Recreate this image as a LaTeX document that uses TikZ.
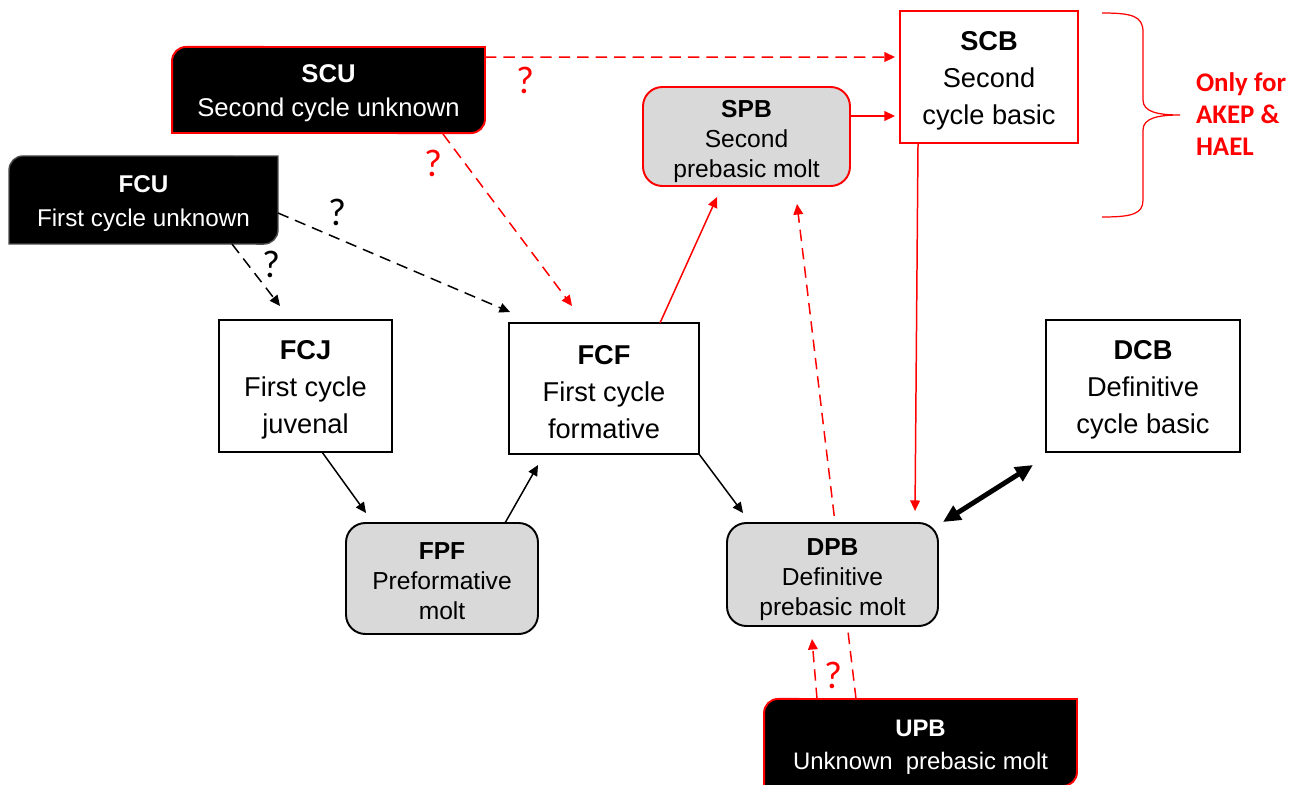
\documentclass[tikz,border=0pt]{standalone}
\usepackage{fontspec}
\setmainfont{Liberation Sans}
\newfontfamily\calib{Carlito}
\usetikzlibrary{arrows.meta,calc,backgrounds}
\definecolor{boxgrey}{HTML}{D9D9D9}
\definecolor{myred}{HTML}{FF0000}
\newcommand\diagshape[3]{% name, stroke colour, line width
  \path[fill=black, draw=#2, line width=#3]
    (#1.south west) -- ($(#1.north west)+(0,14)$) arc[start angle=180, end angle=90, radius=8pt]
    -- (#1.north east) -- ($(#1.south east)+(0,-14)$) arc[start angle=0, end angle=-90, radius=8pt]
    -- cycle;}
\newcommand\ttl[2][13.6pt]{\rule{0pt}{#1}\textbf{#2}}
\begin{document}
\begin{tikzpicture}[x=0.02cm,y=-0.02cm,
  every node/.style={inner sep=0pt, outer sep=0pt},
  sq/.style={draw=black, line width=1.1pt, fill=white, align=center, font=\fontsize{15.5}{21}\selectfont},
  sqred/.style={sq, draw=myred},
  rnd/.style={draw=black, line width=1.1pt, fill=boxgrey, rounded corners=11pt, align=center, font=\fontsize{14}{17}\selectfont},
  rndred/.style={rnd, draw=myred},
  unk/.style={align=center, text=white, font=\fontsize{13.6}{19}\selectfont},
  con/.style={line width=0.85pt, -{Triangle[length=6pt,width=5.5pt]}},
  dsh/.style={dash pattern=on 6.5pt off 4pt},
  qm/.style={font=\calib\fontsize{22}{22}\selectfont},
]
\useasboundingbox (0,0) rectangle (1304,784);

% nodes
\node[unk, font=\fontsize{14.6}{19.2}\selectfont, minimum width=6.26cm, minimum height=1.72cm] (scu) at (328.5,90) {\ttl[13.8pt]{SCU}\\Second cycle unknown};
\node[unk, font=\fontsize{13.8}{19}\selectfont, minimum width=5.38cm, minimum height=1.76cm] (fcu) at (143.5,200) {\ttl[13.7pt]{FCU}\\First cycle unknown};
\node[unk, minimum width=6.26cm, minimum height=1.74cm] (upb) at (920.5,742.5) {\ttl[14.6pt]{UPB}\\Unknown\ \ prebasic molt};
\node[sqred, minimum width=3.56cm, minimum height=2.64cm] (scb) at (989,77) {\ttl[15pt]{SCB}\\Second\\cycle basic};
\node[rndred, minimum width=4.14cm, minimum height=1.98cm] (spb) at (746.5,136.5) {\ttl[15.1pt]{SPB}\\Second\\prebasic molt};
\node[sq, minimum width=3.46cm, minimum height=2.64cm] (fcj) at (305.5,386) {\ttl[15pt]{FCJ}\\First cycle\\juvenal};
\node[sq, minimum width=3.80cm, minimum height=2.62cm] (fcf) at (604,388.5) {\ttl[15pt]{FCF}\\First cycle\\formative};
\node[sq, minimum width=3.88cm, minimum height=2.64cm] (dcb) at (1143,386) {\ttl[15pt]{DCB}\\Definitive\\cycle basic};
\node[rnd, minimum width=3.84cm, minimum height=2.22cm] (fpf) at (442,578.5) {\ttl[12.3pt]{FPF}\\Preformative\\molt};
\node[rnd, minimum width=4.22cm, minimum height=2.06cm] (dpb) at (832.5,574.5) {\ttl[15.1pt]{DPB}\\Definitive\\prebasic molt};

\node[anchor=west, align=left, text=myred, font=\calib\bfseries\fontsize{15.3}{18.1}\selectfont] (note) at (1196,114) {Only for\\AKEP \&\\HAEL};

\node[qm, text=myred] (q1) at (525,80) {?};
\node[qm, text=myred] (q2) at (433,163) {?};
\node[qm] (q3) at (337,212) {?};
\node[qm] (q4) at (271,264) {?};
\node[qm, text=myred] (q5) at (833,675) {?};

\begin{pgfonlayer}{background}
  \diagshape{scu}{myred}{1.1pt}
  \diagshape{fcu}{black!70}{0.8pt}
  \diagshape{upb}{myred}{1.1pt}
  \draw[con, myred, dsh] ($(upb.north west)+(92,0)$) -- ($(spb.south west)+(154,18)$);
\end{pgfonlayer}

% connectors
\draw[con, myred, dsh] ($(scu.north east)+(0,10)$) -- ($(scb.north west)+(-5,46)$);
\draw[con, myred, dsh] ($(scu.south east)+(-42,1)$) -- ($(fcf.north west)+(63,-17)$);
\draw[con, dsh] ($(fcu.east)+(0,13)$) -- ($(fcf.north west)+(1,-11)$);
\draw[con, dsh] ($(fcu.south east)+(-46,0)$) -- ($(fcj.north west)+(61,-14)$);
\draw[con, myred] ($(spb.east)+(0,-20.5)$) -- ($(scb.west)+(-5,39)$);
\draw[con, myred] ($(fcf.north east)+(-39,0)$) -- ($(spb.south west)+(74,11)$);
\draw[con, myred] ($(scb.south west)+(18,0)$) -- ($(dpb.north west)+(188,-12)$);
\draw[line width=2.8pt, {Triangle[length=10pt,width=9pt]}-{Triangle[length=10pt,width=9pt]}] ($(dcb.south west)+(-13,13)$) -- ($(dpb.north east)+(5,-1)$);
\draw[con] ($(fcj.south east)+(-70,0)$) -- ($(fpf.north west)+(20,-10)$);
\draw[con] ($(fpf.north east)+(-33,0)$) -- ($(fcf.south west)+(29,11)$);
\draw[con] (fcf.south east) -- ($(dpb.north west)+(16,-10)$);
\draw[con, myred, dsh] ($(upb.north west)+(53,0)$) -- ($(dpb.south west)+(85,13)$);

% brace
\draw[myred, line width=0.7pt] (1102,13) .. controls (1132,13) and (1143,16) .. (1143,32) -- (1143,100)
  .. controls (1143,112) and (1158,115) .. (1180,115)
  .. controls (1158,115) and (1143,118) .. (1143,130) -- (1143,200)
  .. controls (1143,214) and (1132,217) .. (1102,217);
\end{tikzpicture}
\end{document}
